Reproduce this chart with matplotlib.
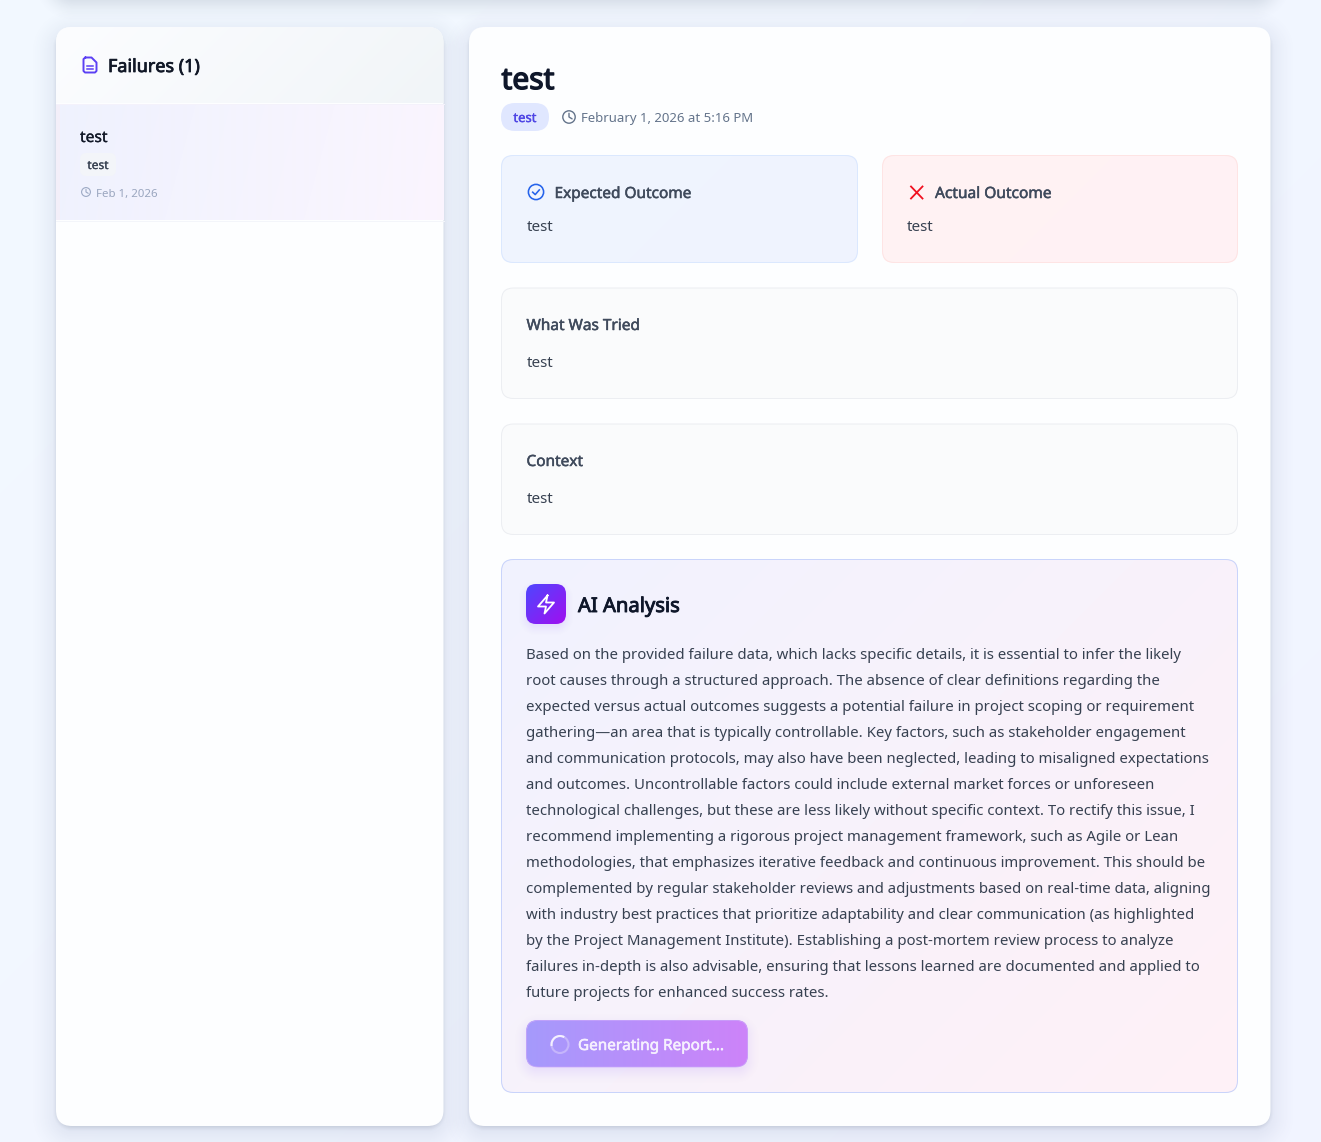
import numpy as np
import matplotlib
matplotlib.use("Agg")
import matplotlib.pyplot as plt
import matplotlib.patheffects as pe
from matplotlib.patches import FancyBboxPatch, Circle, Arc
from matplotlib.colors import to_rgb

W, H = 1321, 1142
FONT = "Noto Sans"

sidebar_title = "Failures (1)"
item_title = "test"
item_tag = "test"
item_date = "Feb 1, 2026"
main_title = "test"
main_tag = "test"
main_date = "February 1, 2026 at 5:16 PM"
expected_label = "Expected Outcome"
expected_value = "test"
actual_label = "Actual Outcome"
actual_value = "test"
tried_label = "What Was Tried"
tried_value = "test"
context_label = "Context"
context_value = "test"
ai_label = "AI Analysis"
button_label = "Generating Report..."
analysis_lines = [
    "Based on the provided failure data, which lacks specific details, it is essential to infer the likely",
    "root causes through a structured approach. The absence of clear definitions regarding the",
    "expected versus actual outcomes suggests a potential failure in project scoping or requirement",
    "gathering\u2014an area that is typically controllable. Key factors, such as stakeholder engagement",
    "and communication protocols, may also have been neglected, leading to misaligned expectations",
    "and outcomes. Uncontrollable factors could include external market forces or unforeseen",
    "technological challenges, but these are less likely without specific context. To rectify this issue, I",
    "recommend implementing a rigorous project management framework, such as Agile or Lean",
    "methodologies, that emphasizes iterative feedback and continuous improvement. This should be",
    "complemented by regular stakeholder reviews and adjustments based on real-time data, aligning",
    "with industry best practices that prioritize adaptability and clear communication (as highlighted",
    "by the Project Management Institute). Establishing a post-mortem review process to analyze",
    "failures in-depth is also advisable, ensuring that lessons learned are documented and applied to",
    "future projects for enhanced success rates.",
]

fig = plt.figure(figsize=(W / 100, H / 100), dpi=100)
ax = fig.add_axes([0, 0, 1, 1])
ax.set_xlim(0, W)
ax.set_ylim(H, 0)
ax.axis("off")


def rbox(x0, y0, x1, y1, r, **kw):
    return FancyBboxPatch((x0 + r, y0 + r), x1 - x0 - 2 * r, y1 - y0 - 2 * r,
                          boxstyle=f"round,pad={r},rounding_size={r}", **kw)


def gradient(x0, y0, x1, y1, c0, c1, angle=135.0, clip=None, z=1):
    w, h = max(int(x1 - x0), 2), max(int(y1 - y0), 2)
    yy, xx = np.mgrid[0:h, 0:w]
    a = np.deg2rad(angle)
    dx, dy = np.sin(a), -np.cos(a)
    t = xx * dx + yy * dy
    t = (t - t.min()) / (t.max() - t.min())
    c0, c1 = np.array(to_rgb(c0)), np.array(to_rgb(c1))
    img = c0 + (c1 - c0) * t[..., None]
    im = ax.imshow(img, extent=(x0, x1, y1, y0), origin="upper", aspect="auto",
                   interpolation="bilinear", zorder=z)
    if clip is not None:
        clip.set_transform(ax.transData)
        im.set_clip_path(clip)
    ax.set_xlim(0, W)
    ax.set_ylim(H, 0)
    return im


def shadow(x0, y0, x1, y1, r, blur, color, alpha, dy=0, z=0.5):
    pad = blur * 2
    X0, X1 = max(x0 - pad, 0), min(x1 + pad, W)
    Y0, Y1 = max(y0 + dy - pad, 0), min(y1 + dy + pad, H)
    xs = np.arange(X0, X1) + 0.5
    ys = np.arange(Y0, Y1) + 0.5
    xx, yy = np.meshgrid(xs, ys)
    cx, cy = (x0 + x1) / 2, (y0 + y1) / 2 + dy
    qx = np.abs(xx - cx) - ((x1 - x0) / 2 - r)
    qy = np.abs(yy - cy) - ((y1 - y0) / 2 - r)
    d = np.hypot(np.maximum(qx, 0), np.maximum(qy, 0)) + np.minimum(np.maximum(qx, qy), 0) - r
    t = np.clip((blur - d) / (2 * blur), 0, 1)
    t = t * t * (3 - 2 * t)
    img = np.zeros(d.shape + (4,))
    img[..., :3] = to_rgb(color)
    img[..., 3] = t * alpha
    ax.imshow(img, extent=(X0, X1, Y1, Y0), origin="upper", aspect="auto", zorder=z)
    ax.set_xlim(0, W)
    ax.set_ylim(H, 0)


def label(x, y, s, size, color, heavy=0.0, ha="left", z=10):
    t = ax.text(x, y, s, fontsize=size * 0.72, color=color, ha=ha,
                va="baseline", family=FONT, zorder=z)
    if heavy:
        t.set_path_effects([pe.withStroke(linewidth=heavy, foreground=color)])


def clock(cx, cy, r, color, lw):
    ax.add_patch(Circle((cx, cy), r, fill=False, ec=color, lw=lw, zorder=10))
    ax.plot([cx, cx, cx + r * 0.5], [cy - r * 0.6, cy, cy + r * 0.3],
            color=color, lw=lw, zorder=10, solid_capstyle="round", solid_joinstyle="round")


# page background
gradient(0, 0, W, H, "#f3f9ff", "#f1f4ff", z=0)

# top bar shadow
shadow(58, -80, 1268, -3, 16, 26, "#64748b", 0.42, z=0.4)

# panels
for (x0, x1) in ((56, 443.5), (469, 1270.5)):
    shadow(x0, 27, x1, 1126, 16, 28, "#475a8c", 0.17, dy=7, z=0.5)
    shadow(x0, 29, x1, 1126, 16, 4, "#475569", 0.16, dy=2, z=0.55)
    ax.add_patch(rbox(x0, 27, x1, 1126, 16, fc="#fdfeff", ec="none", zorder=1))

# left header and selected item
clip_header = rbox(56, 27, 443.5, 140, 16, fc="none", ec="none")
gradient(56, 27, 444, 103, "#fcfdff", "#f1f5f8", clip=clip_header, z=2)
gradient(56, 104, 443.5, 220, "#eff2fe", "#fbf5fe", angle=105, z=2)
ax.fill_between([56, 60], 104, 220, color="#f3eff9", lw=0, zorder=3)
ax.plot([56, 443.5], [103.5, 103.5], color="#f4f2fb", lw=0.72, zorder=3)
ax.plot([56, 443.5], [220.5, 220.5], color="#f3f5fa", lw=0.72, zorder=3)

# document icon
doc_c = "#5b40f4"
ax.plot([85.5, 91.5, 96.5, 96.5, 95, 85, 83.5, 83.5, 85.5],
        [57.5, 57.5, 62.5, 71, 72.5, 72.5, 71, 59, 57.5],
        color=doc_c, lw=1.4, zorder=10, solid_joinstyle="round")
ax.plot([87, 93], [65.5, 65.5], color=doc_c, lw=1.1, zorder=10)
ax.plot([87, 93], [68.8, 68.8], color=doc_c, lw=1.1, zorder=10)
label(108, 72, sidebar_title, 18, "#111827", 0.55)

label(80, 142, item_title, 15.6, "#111827", 0.2)
ax.add_patch(rbox(80, 153, 116, 176, 6, fc="#f3f5f9", ec="none", zorder=5))
label(98, 169, item_tag, 12, "#374151", 0.15, ha="center")
clock(86, 192, 4.4, "#9ca9c4", 0.8)
label(96, 197, item_date, 11.5, "#9aa6bf")

# main header
label(501.5, 89, main_title, 30, "#0f172a", 1.0)
ax.add_patch(rbox(501, 103, 549, 131, 14, fc="#e0e7ff", ec="none", zorder=5))
label(525, 122, main_tag, 13, "#4f46e5", 0.3, ha="center")
clock(569, 117, 6.2, "#64748b", 1.0)
label(581, 122, main_date, 13.15, "#64748b")

# expected card
clip = rbox(501, 155, 858, 263, 12, fc="none", ec="none")
gradient(501, 155, 858, 263, "#f0f5ff", "#eff3fe", clip=clip, z=2)
ax.add_patch(rbox(501.5, 155.5, 857.5, 262.5, 12, fc="none", ec="#dbe8fe", lw=0.72, zorder=3))
ax.add_patch(Circle((536, 192), 7.6, fill=False, ec="#2563eb", lw=1.15, zorder=10))
ax.plot([532.7, 535.2, 539.3], [192.2, 194.6, 189.9], color="#2563eb", lw=1.15, zorder=10)
label(554.5, 198, expected_label, 15.4, "#3f4a5c", 0.35)
label(526.5, 231, expected_value, 15.2, "#374151")

# actual card
clip = rbox(882, 155, 1238, 263, 12, fc="none", ec="none")
gradient(882, 155, 1238, 263, "#fff3f3", "#fff1f5", clip=clip, z=2)
ax.add_patch(rbox(882.5, 155.5, 1237.5, 262.5, 12, fc="none", ec="#fee4e4", lw=0.72, zorder=3))
ax.plot([911, 922.5], [186.5, 198.5], color="#f0101f", lw=1.3, zorder=10)
ax.plot([922.5, 911], [186.5, 198.5], color="#f0101f", lw=1.3, zorder=10)
label(935, 198, actual_label, 15.5, "#3f4a5c", 0.35)
label(907, 231, actual_value, 15.2, "#374151")

# plain cards
for y0, y1, title, value in ((288, 398.5, tried_label, tried_value),
                             (424, 534.5, context_label, context_value)):
    ax.add_patch(rbox(501.5, y0, 1237.5, y1, 12, fc="#fafbfc", ec="#eceef2", lw=0.72, zorder=2))
    label(526.5, y0 + 42, title, 15.4, "#3f4a5c", 0.35)
    label(526.5, y0 + 79, value, 15.2, "#374151")

# AI analysis card
clip = rbox(501, 559, 1238, 1093, 12, fc="none", ec="none")
gradient(501, 559, 1238, 1093, "#f1f3ff", "#fff1f7", clip=clip, z=2)
ax.add_patch(rbox(501.5, 559.5, 1237.5, 1092.5, 12, fc="none", ec="#c9d4fb", lw=0.72, zorder=3))

shadow(526, 584, 566, 624, 10, 9, "#6d3df0", 0.13, dy=4, z=3)
clip = rbox(526, 584, 566, 624, 10, fc="none", ec="none")
gradient(526, 584, 566, 624, "#4f46fe", "#a00ff0", clip=clip, z=4)
ax.plot([547.5, 538, 546, 544.5, 554, 546, 547.5],
        [595.5, 606.5, 606.5, 613.5, 602.5, 602.5, 595.5],
        color="white", lw=1.3, zorder=10, solid_joinstyle="round")
label(578, 612, ai_label, 20.2, "#0f172a", 0.65)

for i, line in enumerate(analysis_lines):
    label(526.5, 659 + 26 * i, line, 14.95, "#374151")

# button
shadow(526, 1020, 748, 1067, 12, 13, "#8b5cf6", 0.17, dy=5, z=3)
clip = rbox(526, 1020, 748, 1067, 12, fc="none", ec="none")
gradient(526, 1020, 748, 1067, "#a59afc", "#cd83f9", angle=90, clip=clip, z=4)
ax.add_patch(rbox(526.5, 1020.5, 747.5, 1067, 12, fc="none", ec="#c9a6fa", lw=0.5, zorder=5))
ax.add_patch(Circle((560, 1044.5), 8.5, fill=False, ec="#c5b5fb", lw=1.5, zorder=10))
ax.add_patch(Arc((560, 1044.5), 17, 17, theta1=170, theta2=300, ec="#f4f0ff", lw=1.5, zorder=11))
label(578, 1050, button_label, 15.3, "#f6f0ff", 0.4)

fig.savefig("out.png", dpi=100)
